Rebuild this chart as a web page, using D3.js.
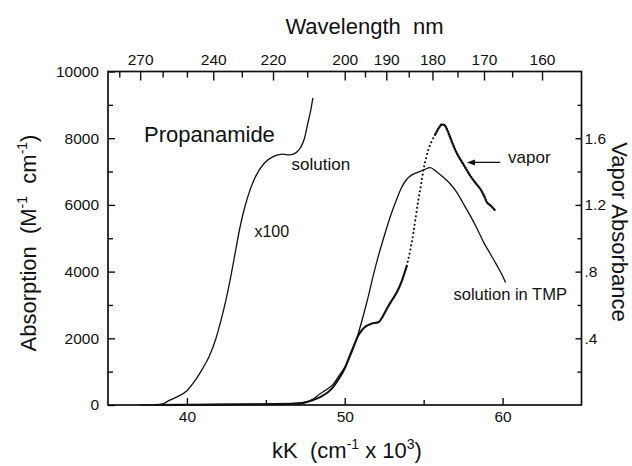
<!DOCTYPE html>
<html>
<head>
<meta charset="utf-8">
<script src="https://cdn.jsdelivr.net/npm/d3@7"></script>
<style>
  html, body { margin: 0; padding: 0; background: #fff; }
  svg text { font-family: "Liberation Sans", Arial, Helvetica, sans-serif; fill: #111; }
</style>
</head>
<body>
<svg id="chart" width="632" height="466"></svg>
<script>
// ---------------- data ----------------
// x100 solution spectrum: kK, absorption (M-1 cm-1)
const solutionKK  = [37.0, 38.0, 38.5, 38.85, 39.4, 40.0, 40.5, 41.0, 41.4, 41.83, 42.15, 42.46, 42.8, 43.1, 43.35, 43.63, 44.0, 44.37, 44.9, 45.43, 46.07, 46.5, 46.9, 47.2, 47.45, 47.66, 47.85, 47.98];
const solutionVal = [0, 10, 40, 130, 250, 430, 720, 1100, 1450, 1980, 2520, 3120, 3900, 4670, 5300, 5870, 6450, 6870, 7250, 7440, 7520, 7500, 7560, 7720, 8000, 8450, 8850, 9210];

// solution in TMP: kK, absorption (M-1 cm-1)
const tmpKK  = [38.0, 40.0, 44.0, 46.0, 47.5, 48.0, 48.41, 48.8, 49.26, 49.6, 50.0, 50.4, 50.75, 51.17, 51.5, 51.8, 52.1, 52.44, 52.85, 53.29, 53.6, 53.93, 54.25, 54.57, 55.0, 55.41, 55.8, 56.26, 56.7, 57.11, 57.5, 57.96, 58.4, 58.81, 59.2, 59.66, 60.0, 60.19];
const tmpVal = [0, 10, 20, 30, 80, 180, 330, 450, 620, 850, 1130, 1530, 1980, 2670, 3270, 3870, 4420, 4970, 5600, 6170, 6520, 6770, 6900, 6970, 7050, 7120, 7000, 6820, 6620, 6370, 6050, 5670, 5270, 4870, 4550, 4170, 3870, 3670];

// vapor: kK, absorbance
const vaporKK  = [38.0, 44.0, 47.0, 48.0, 48.5, 49.2, 49.68, 50.0, 50.32, 50.6, 50.85, 51.1, 51.38, 51.7, 52.12, 52.4, 52.65, 53.0, 53.29, 53.6, 53.93, 54.15, 54.35, 54.5, 54.67, 54.85, 54.99, 55.15, 55.3, 55.5, 55.73, 55.95, 56.16, 56.3, 56.48, 56.7, 56.9, 57.1, 57.32, 57.6, 57.96, 58.3, 58.6, 58.8, 59.02, 59.2, 59.55];
const vaporVal = [0, 0.004, 0.008, 0.03, 0.05, 0.1, 0.166, 0.22, 0.296, 0.36, 0.416, 0.45, 0.474, 0.488, 0.496, 0.53, 0.574, 0.63, 0.674, 0.74, 0.834, 0.93, 1.034, 1.13, 1.234, 1.33, 1.414, 1.48, 1.532, 1.58, 1.622, 1.66, 1.682, 1.68, 1.652, 1.6, 1.552, 1.51, 1.474, 1.43, 1.374, 1.33, 1.294, 1.26, 1.214, 1.2, 1.164];

// ticks
const kkMajor = [40, 50, 60];
const kkMinor = [45, 55];
const wlMajor = [270, 240, 220, 200, 190, 180, 170, 160];
const wlMinor = [280, 260, 250, 230, 210, 195, 185, 175, 165];
const absMajor = [0, 2000, 4000, 6000, 8000, 10000];
const absMinor = [1000, 3000, 5000, 7000, 9000];
const vapMajor = [0.4, 0.8, 1.2, 1.6];
const vapMinor = [0.2, 0.6, 1.0, 1.4, 1.8];

// ---------------- layout ----------------
const W = 632, H = 466;
const L = 108, R = 581.5, T = 71.5, B = 405;
const svg = d3.select("#chart");

const x  = d3.scaleLinear().domain([35, 65]).range([L, R]);
const yL = d3.scaleLinear().domain([0, 10000]).range([B, T]);
const yR = d3.scaleLinear().domain([0, 2.0]).range([B, T]);

const ink = "#111";
const tickFont = 15.5;

function styleAxis(g) {
  g.select(".domain").remove();
  g.selectAll(".tick line").attr("stroke", ink).attr("stroke-width", 1.4);
  g.selectAll(".tick text").style("font-size", tickFont + "px").attr("fill", ink);
}

// bottom
svg.append("g").attr("transform", `translate(0,${B})`)
  .call(d3.axisBottom(x).tickValues(kkMajor).tickSize(-7).tickPadding(6).tickFormat(d3.format("d")))
  .call(styleAxis);
svg.append("g").attr("transform", `translate(0,${B})`)
  .call(d3.axisBottom(x).tickValues(kkMinor).tickSize(-5).tickFormat(""))
  .call(styleAxis);

// top (wavelength)
svg.append("g").attr("transform", `translate(0,${T})`)
  .call(d3.axisTop(x).tickValues(wlMajor.map(w => 1e4 / w)).tickSize(-9).tickPadding(7)
        .tickFormat(d => String(Math.round(1e4 / d))))
  .call(styleAxis);
svg.append("g").attr("transform", `translate(0,${T})`)
  .call(d3.axisTop(x).tickValues(wlMinor.map(w => 1e4 / w)).tickSize(-6).tickFormat(""))
  .call(styleAxis);

// left
svg.append("g").attr("transform", `translate(${L},0)`)
  .call(d3.axisLeft(yL).tickValues(absMajor).tickSize(-7).tickPadding(9).tickFormat(d3.format("d")))
  .call(styleAxis);
svg.append("g").attr("transform", `translate(${L},0)`)
  .call(d3.axisLeft(yL).tickValues(absMinor).tickSize(-5).tickFormat(""))
  .call(styleAxis);

// right
svg.append("g").attr("transform", `translate(${R},0)`)
  .call(d3.axisRight(yR).tickValues(vapMajor).tickSize(-6).tickPadding(3)
        .tickFormat(d => d < 1 ? "." + Math.round(d * 10) : d.toFixed(1)))
  .call(styleAxis);
svg.append("g").attr("transform", `translate(${R},0)`)
  .call(d3.axisRight(yR).tickValues(vapMinor).tickSize(-4).tickFormat(""))
  .call(styleAxis);

// frame
svg.append("rect").attr("x", L).attr("y", T).attr("width", R - L).attr("height", B - T)
  .attr("fill", "none").attr("stroke", ink).attr("stroke-width", 1.7);

// ---------------- curves ----------------
const lineL = d3.line().x(d => x(d[0])).y(d => yL(d[1])).curve(d3.curveMonotoneX);
const lineR = d3.line().x(d => x(d[0])).y(d => yR(d[1])).curve(d3.curveMonotoneX);

svg.append("path").datum(d3.zip(solutionKK, solutionVal))
  .attr("d", lineL).attr("fill", "none").attr("stroke", ink).attr("stroke-width", 1.3);

svg.append("path").datum(d3.zip(tmpKK, tmpVal))
  .attr("d", lineL).attr("fill", "none").attr("stroke", ink).attr("stroke-width", 1.3);

// vapor drawn in three styled stretches: heavy on the shoulder, sparse dots on the steep rise, beaded after it
const vapor = d3.zip(vaporKK, vaporVal);
const iRise = vaporKK.indexOf(53.93), iTop = vaporKK.indexOf(55.73);
svg.append("path").datum(vapor.slice(0, iRise + 1))
  .attr("d", lineR).attr("fill", "none").attr("stroke", ink).attr("stroke-width", 2.1)
  .attr("stroke-linecap", "round");
svg.append("path").datum(vapor.slice(iRise, iTop + 1))
  .attr("d", lineR).attr("fill", "none").attr("stroke", ink).attr("stroke-width", 2.1)
  .attr("stroke-linecap", "round").attr("stroke-dasharray", "0.01 4.2");
svg.append("path").datum(vapor.slice(iTop))
  .attr("d", lineR).attr("fill", "none").attr("stroke", ink).attr("stroke-width", 2.4)
  .attr("stroke-linecap", "round").attr("stroke-dasharray", "0.8 1.9");

// ---------------- annotations ----------------
svg.append("text").attr("x", x(37.28)).attr("y", yL(7895))
  .style("font-size", "22px").text("Propanamide");
svg.append("text").attr("x", x(46.63)).attr("y", yL(7046))
  .style("font-size", "17px").text("solution");
svg.append("text").attr("x", x(44.28)).attr("y", yL(5047))
  .style("font-size", "16px").text("x100");
svg.append("text").attr("x", x(56.89)).attr("y", yL(3148))
  .style("font-size", "16.5px").text("solution in TMP");

// vapor label + arrow
const ay = yR(1.455);
svg.append("line").attr("x1", x(57.95)).attr("x2", x(59.85)).attr("y1", ay).attr("y2", ay)
  .attr("stroke", ink).attr("stroke-width", 1.3);
const ax = x(57.74);
svg.append("path").attr("d", `M${ax},${ay} L${ax + 8},${ay - 3} L${ax + 8},${ay + 3} Z`).attr("fill", ink);
svg.append("text").attr("x", x(60.35)).attr("y", ay + 1)
  .style("font-size", "17px").text("vapor");

// ---------------- axis titles ----------------
svg.append("text").attr("x", 364.5).attr("y", 34).attr("text-anchor", "middle")
  .style("font-size", "22px").style("white-space", "pre").text("Wavelength  nm");

const bt = svg.append("text").attr("x", 347).attr("y", 458).attr("text-anchor", "middle")
  .style("font-size", "22px").style("white-space", "pre");
bt.append("tspan").text("kK  (cm");
bt.append("tspan").attr("dy", -9).style("font-size", "14px").text("-1");
bt.append("tspan").attr("dy", 9).text(" x 10");
bt.append("tspan").attr("dy", -9).style("font-size", "14px").text("3");
bt.append("tspan").attr("dy", 9).text(")");

const lt = svg.append("text").attr("transform", "translate(36,243) rotate(-90)").attr("text-anchor", "middle")
  .style("font-size", "22px").style("white-space", "pre");
lt.append("tspan").text("Absorption  (M");
lt.append("tspan").attr("dy", -9).style("font-size", "14px").text("-1");
lt.append("tspan").attr("dy", 9).text("  cm");
lt.append("tspan").attr("dy", -9).style("font-size", "14px").text("-1");
lt.append("tspan").attr("dy", 9).text(")");

svg.append("text").attr("transform", "translate(612,232) rotate(90)").attr("text-anchor", "middle")
  .style("font-size", "22px").text("Vapor Absorbance");
</script>
</body>
</html>
